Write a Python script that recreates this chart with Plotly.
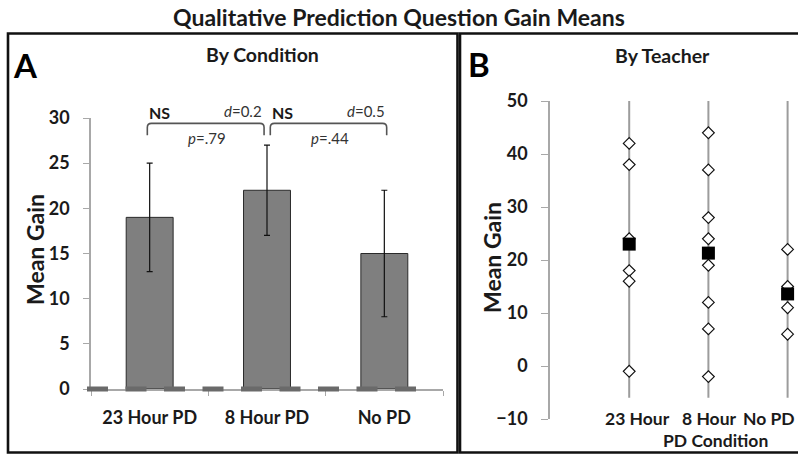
import plotly.graph_objects as go

# ---------------- data ----------------
conditions = ["23 Hour PD", "8 Hour PD", "No PD"]
condition_means = [19, 22, 15]
condition_errors = [6, 5, 7]

comparison_pairs = [(0, 1), (1, 2)]
comparison_sig = ["NS", "NS"]
comparison_d = ["0.2", "0.5"]
comparison_p = [".79", ".44"]

teacher_conditions = ["23 Hour", "8 Hour", "No PD"]
teacher_gains_23h = [42, 38, 24, 18, 16, -1]
teacher_gains_8h = [44, 37, 28, 24, 19, 12, 7, -2]
teacher_gains_nopd = [22, 15, 11, 6]
teacher_means = [23, 21.3, 13.6]
range_low = [-6, -6, -6]
range_high = [50, 50, 50]

# ---------------- layout helpers ----------------
W, H = 798, 455
def px(x):
    return x / W
def py(y):
    return 1 - y / H

FONT = "Lato"
DARK = "#1a1a1a"
AXIS_GREY = "#a8a8a8"
YMAX_A = 30

fig = go.Figure()

# ---- Panel A: bars ----
xa = list(range(len(conditions)))
fig.add_trace(go.Bar(
    x=xa, y=condition_means, width=0.4,
    marker=dict(color="#7f7f7f", line=dict(color="#2a2a2a", width=1)),
    error_y=dict(type="data", array=condition_errors, color="#111", thickness=1.2, width=3),
    xaxis="x", yaxis="y", showlegend=False, hoverinfo="skip",
))

# ---- Panel B: teacher points ----
groups = [teacher_gains_23h, teacher_gains_8h, teacher_gains_nopd]
xb = [i + 1 for i in range(len(teacher_conditions))]
lx, ly = [], []
for x, lo, hi in zip(xb, range_low, range_high):
    lx += [x, x, None]
    ly += [lo, hi, None]
fig.add_trace(go.Scatter(x=lx, y=ly, mode="lines", line=dict(color="#9c9c9c", width=2),
                         xaxis="x2", yaxis="y2", showlegend=False, hoverinfo="skip"))
px_pts, py_pts = [], []
for x, g in zip(xb, groups):
    px_pts += [x] * len(g)
    py_pts += g
fig.add_trace(go.Scatter(x=px_pts, y=py_pts, mode="markers",
                         marker=dict(symbol="diamond", size=9, color="white",
                                     line=dict(color="#111", width=1.2)),
                         xaxis="x2", yaxis="y2", showlegend=False, cliponaxis=False))
fig.add_trace(go.Scatter(x=xb, y=teacher_means, mode="markers",
                         marker=dict(symbol="square", size=13, color="black",
                                     line=dict(color="black", width=0)),
                         xaxis="x2", yaxis="y2", showlegend=False, cliponaxis=False))

shapes = []
annotations = []

# zero dashes in panel A
shapes.append(dict(type="line", xref="x domain", yref="y domain",
                   x0=(87 - 91) / 352, x1=(417 - 91) / 352, y0=0, y1=0,
                   line=dict(color="#6a6a6a", width=5, dash="21px,17.5px"), layer="above"))

# brackets and stats
for k, (i, j) in enumerate(comparison_pairs):
    x0 = i + (0.028 if i == 1 else -0.02)
    x1 = j + (-0.025 if j == 1 else 0.02)
    yt, yb = 29.4, 28.1
    path = (f"M {x0},{yb} L {x0},{yt-0.45} Q {x0},{yt} {x0+0.035},{yt} "
            f"L {x1-0.035},{yt} Q {x1},{yt} {x1},{yt-0.45} L {x1},{yb}")
    shapes.append(dict(type="path", path=path, xref="x", yref="y",
                       line=dict(color="#555", width=1.6)))
    annotations.append(dict(x=x0, y=30.65 / YMAX_A, xref="x", yref="y domain",
                            text=comparison_sig[k],
                            showarrow=False, xanchor="left", yanchor="middle",
                            font=dict(family=FONT, size=16, color=DARK, weight="bold")))
    annotations.append(dict(x=x1, y=30.8 / YMAX_A, xref="x", yref="y domain",
                            text=f"<i>d</i>={comparison_d[k]}",
                            showarrow=False, xanchor="right", yanchor="middle",
                            font=dict(family=FONT, size=15, color="#333")))
    annotations.append(dict(x=(x0 + x1) / 2 + 0.01, y=27.75, xref="x", yref="y",
                            text=f"<i>p</i>={comparison_p[k]}",
                            showarrow=False, xanchor="center", yanchor="middle",
                            font=dict(family=FONT, size=15, color="#333")))

# panel borders
shapes.append(dict(type="rect", xref="paper", yref="paper",
                   x0=px(8), x1=px(457.5), y0=py(452.5), y1=py(33.5),
                   line=dict(color="#111", width=2.6)))
shapes.append(dict(type="rect", xref="paper", yref="paper",
                   x0=px(460), x1=px(806), y0=py(452.5), y1=py(33.5),
                   line=dict(color="#111", width=2.6)))

def text(x, y, t, size, bold=True, anchor="center", angle=0, color=DARK):
    annotations.append(dict(x=px(x), y=py(y), xref="paper", yref="paper", text=t,
                            showarrow=False, xanchor=anchor, yanchor="middle", textangle=angle,
                            font=dict(family=FONT, size=size, color=color,
                                      weight="bold" if bold else "normal")))

text(399, 17, "Qualitative Prediction Question Gain Means", 23)
text(262, 54, "By Condition", 19.5)
text(662, 55, "By Teacher", 19.5)
text(11, 65, "A", 33, anchor="left", color="#000")
text(466, 64, "B", 33, anchor="left", color="#000")
text(35, 250, "Mean Gain", 23, angle=-90)
text(492, 258, "Mean Gain", 23, angle=-90)
text(715, 440, "PD Condition", 17.5)
# teacher x labels (as placed in the original)
tx = [637, 709, 797]
ta = ["center", "center", "right"]
for lbl, x, a in zip(teacher_conditions, tx, ta):
    text(x, 418, lbl, 17.5, anchor=a)

tickfont = dict(family=FONT, size=18, color=DARK, weight="bold")

fig.update_layout(
    width=W, height=H,
    margin=dict(l=0, r=0, t=0, b=0, pad=0),
    paper_bgcolor="white", plot_bgcolor="white",
    bargap=0.6,
    shapes=shapes, annotations=annotations,
    xaxis=dict(domain=[px(91), px(443)], range=[-0.5, 2.5], anchor="y", automargin=False,
               tickmode="array", tickvals=xa, ticktext=conditions, ticks="",
               ticklabelstandoff=12,
               minor=dict(tickmode="array", tickvals=[-0.5, 0.5, 1.5, 2.5], ticks="outside",
                          ticklen=5, tickcolor=AXIS_GREY, tickwidth=1),
               showline=True, linecolor=AXIS_GREY, linewidth=1.5,
               showgrid=False, zeroline=False,
               tickfont=dict(family=FONT, size=18, color=DARK, weight="bold")),
    yaxis=dict(domain=[py(389), py(118)], range=[0, YMAX_A], anchor="x", automargin=False,
               tickmode="linear", tick0=0, dtick=5, ticks="outside", ticklen=6,
               tickcolor=AXIS_GREY, showline=True, linecolor=AXIS_GREY, linewidth=1.5,
               showgrid=False, zeroline=False, tickfont=tickfont, ticklabelstandoff=10),
    xaxis2=dict(domain=[px(550), 1.0], range=[0, 248 / 79.2], anchor="y2", automargin=False,
                showline=False, showticklabels=False, ticks="", showgrid=False, zeroline=False),
    yaxis2=dict(domain=[py(419), py(101)], range=[-10, 50], anchor="x2", automargin=False,
                tickmode="linear", tick0=-10, dtick=10, ticks="outside", ticklen=7,
                tickcolor=AXIS_GREY, showline=True, linecolor=AXIS_GREY, linewidth=1.5,
                showgrid=False, zeroline=False, tickfont=tickfont, ticklabelstandoff=10),
)

fig.write_html("out.html", config={"displayModeBar": False},
               post_script="document.body.style.margin='0';document.body.style.overflow='hidden';")
